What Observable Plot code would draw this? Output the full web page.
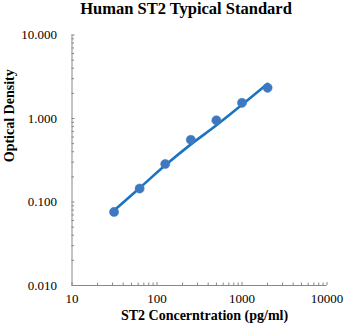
<!DOCTYPE html>
<html>
<head>
<meta charset="utf-8">
<script src="https://cdn.jsdelivr.net/npm/d3@7"></script>
<script src="https://cdn.jsdelivr.net/npm/@observablehq/plot@0.6"></script>
<style>
  body { margin: 0; background: #fff; }
  #wrap { position: relative; width: 344px; height: 330px; }
  #title { position: absolute; left: 0; top: 0px; width: 372px; text-align: center; line-height: 18px;
    font-family: "Liberation Serif", "Times New Roman", serif;
    font-weight: bold; font-size: 16.5px; color: #000; }
</style>
</head>
<body>
<div id="wrap"><div id="title">Human ST2 Typical Standard</div></div>
<script>
const concentration = [31.25, 62.5, 125, 250, 500, 1000, 2000];
const opticalDensity = [0.076, 0.145, 0.285, 0.555, 0.95, 1.54, 2.33];
const fitConcentration = [31.25, 62.5, 125, 250, 500, 1000, 2000];
const fitDensity = [0.079, 0.147, 0.275, 0.49, 0.83, 1.46, 2.6];
const yTicks = [0.01, 0.1, 1, 10];
const xTicks = [10, 100, 1000, 10000];

const points = concentration.map((c, i) => ({c, od: opticalDensity[i]}));
const fit = fitConcentration.map((c, i) => ({c, od: fitDensity[i]}));
const minor = (lo, hi) => d3.range(Math.log10(lo), Math.log10(hi)).flatMap(e => d3.range(2, 10).map(k => k * 10 ** e));

const gray = "#888";
const font = '"Liberation Serif", "Times New Roman", serif';

const chart = Plot.plot({
  width: 344, height: 330,
  marginLeft: 71.5, marginRight: 17.5, marginTop: 34.5, marginBottom: 45,
  style: {fontFamily: font, fontSize: "13px", color: "#000", background: "#fff"},
  x: {type: "log", domain: [10, 10000]},
  y: {type: "log", domain: [0.01, 10]},
  marks: [
    Plot.axisY(yTicks, {tickSize: 0, tickPadding: 15, tickFormat: d3.format(".3f"), label: null, fontSize: 13}),
    Plot.axisY(yTicks, {tickSize: -3, text: null, stroke: gray, label: null}),
    Plot.axisY(minor(0.01, 10), {tickSize: -2.5, text: null, stroke: gray, label: null}),
    Plot.axisX(xTicks, {tickSize: 0, tickPadding: 8, tickFormat: d => String(d), label: null, fontSize: 13}),
    Plot.axisX(xTicks, {tickSize: -3, text: null, stroke: gray, label: null}),
    Plot.axisX(minor(10, 10000), {tickSize: -2.5, text: null, stroke: gray, label: null}),
    Plot.ruleX([10], {stroke: gray}),
    Plot.ruleY([0.01], {stroke: gray}),
    Plot.line(fit, {x: "c", y: "od", stroke: "#1b74c2", strokeWidth: 2.6, curve: "monotone-x"}),
    Plot.dot(points, {x: "c", y: "od", r: 4.6, fill: "#3e78c0", stroke: "#3e78c0", strokeWidth: 0.5}),
    Plot.text(["Optical Density"], {frameAnchor: "left", dx: -62, dy: 2, rotate: -90, fontWeight: "bold", fontSize: 14}),
    Plot.text(["ST2 Concerntration (pg/ml)"], {frameAnchor: "bottom", dx: 5, dy: 34, fontWeight: "bold", fontSize: 14})
  ]
});
document.getElementById("wrap").appendChild(chart);
</script>
</body>
</html>
